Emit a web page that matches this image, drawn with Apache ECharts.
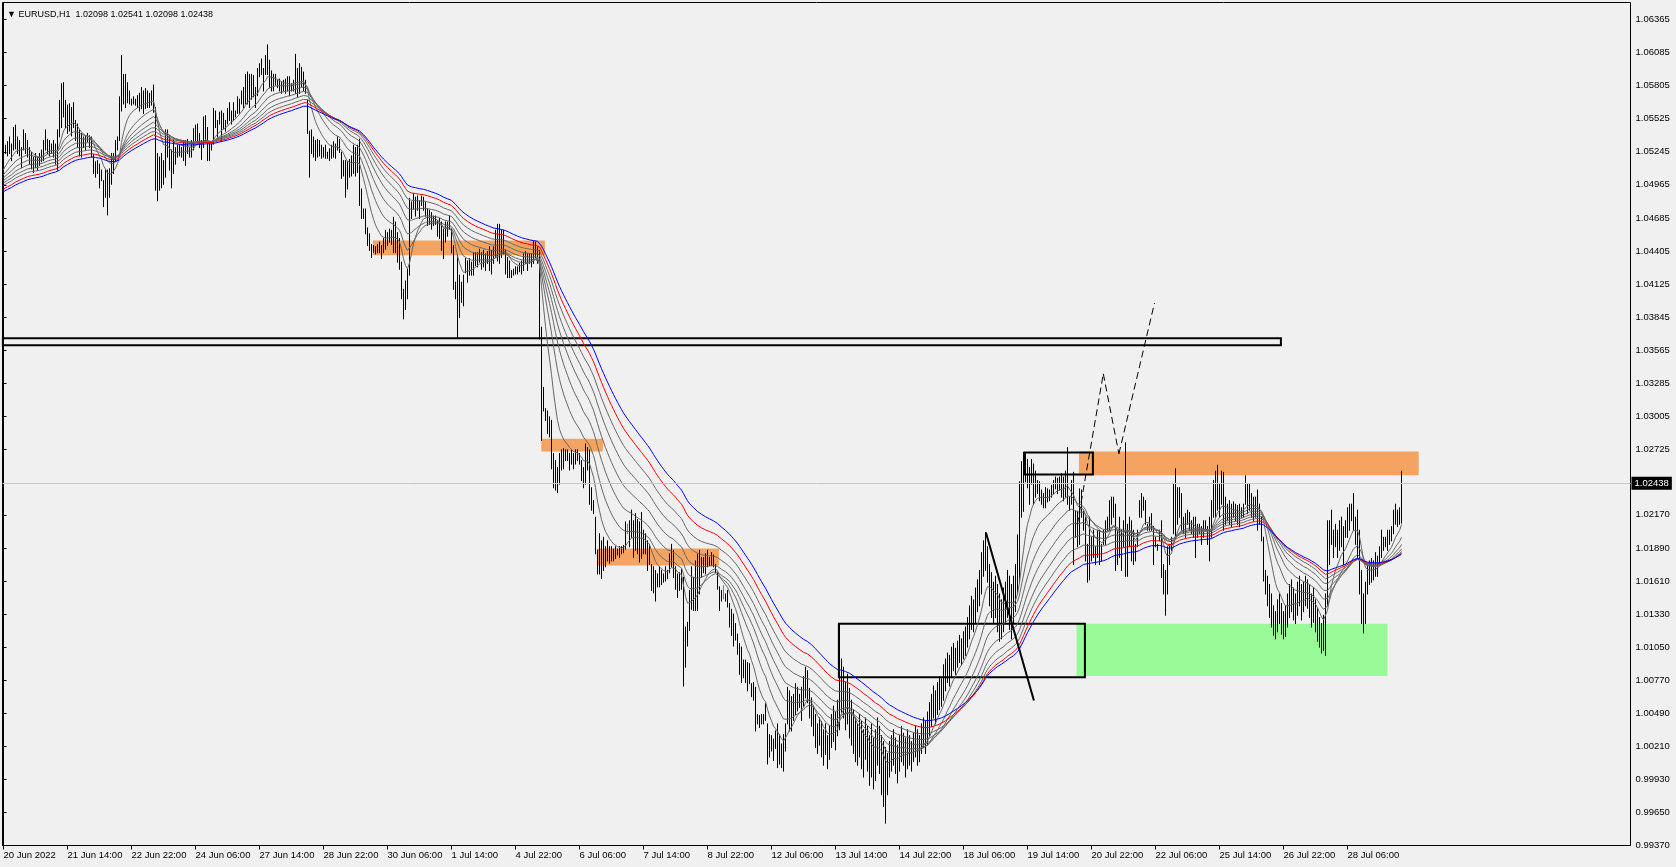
<!DOCTYPE html>
<html><head><meta charset="utf-8">
<script src="https://cdn.jsdelivr.net/npm/echarts@6/dist/echarts.min.js"></script>
<style>html,body{margin:0;padding:0;background:#f0f0f0;}#c{width:1676px;height:867px;}</style>
</head><body><div id="c"></div>
<script>
// ---------- DATA ----------
const chartTitle = '\u25BC EURUSD,H1  1.02098 1.02541 1.02098 1.02438';
const xTickLabels = ['20 Jun 2022','21 Jun 14:00','22 Jun 22:00','24 Jun 06:00','27 Jun 14:00','28 Jun 22:00','30 Jun 06:00','1 Jul 14:00','4 Jul 22:00','6 Jul 06:00','7 Jul 14:00','8 Jul 22:00','12 Jul 06:00','13 Jul 14:00','14 Jul 22:00','18 Jul 06:00','19 Jul 14:00','20 Jul 22:00','22 Jul 06:00','25 Jul 14:00','26 Jul 22:00','28 Jul 06:00'];
const barsPerXLabel = 32;
const yTickValues = [0.99370,0.99650,0.99930,1.00210,1.00490,1.00770,1.01050,1.01330,1.01610,1.01890,1.02170,1.02725,1.03005,1.03285,1.03565,1.03845,1.04125,1.04405,1.04685,1.04965,1.05245,1.05525,1.05805,1.06085,1.06365];
const currentPrice = 1.02438;
// bar highs / lows, in pips above 1.0000 (H1 bars, oldest first)
const barHighPips = [
531,530,533,537,531,545,547,537,534,528, 543,540,534,528,524,520,523,520,523,526,
534,543,535,534,531,534,531,543,568,582, 583,568,564,565,562,566,551,548,543,540,
537,538,540,538,537,522,516,517,514,509, 500,509,509,510,523,523,534,537,571,606,
590,590,583,576,569,571,569,572,574,579, 576,578,576,574,576,581,562,523,520,523,
517,543,543,537,526,534,528,530,530,528, 534,534,535,528,534,544,547,548,540,534,
554,555,545,531,531,561,559,551,558,559, 557,551,561,566,559,566,559,571,569,576,
579,590,592,590,590,589,579,595,599,603, 595,606,615,602,593,590,590,585,586,583,
585,586,588,588,582,585,607,595,599,596, 592,585,568,542,543,537,534,535,534,530,
528,530,524,527,530,533,531,537,535,524, 517,517,516,518,521,530,528,530,535,493,
476,476,460,455,446,445,444,446,448,445, 451,458,456,459,458,469,465,456,451,431,
408,415,425,485,482,489,486,487,483,487, 486,482,476,475,473,470,470,466,468,465,
459,465,465,470,459,445,414,437,420,414, 420,434,432,434,431,439,439,439,442,439,
441,438,440,444,441,444,458,463,463,458, 458,441,435,432,424,425,427,427,430,432,
438,440,438,438,438,449,448,444,441,376, 325,307,305,300,297,269,263,257,269,272,
273,272,272,269,272,269,272,272,269,263, 257,277,274,272,240,229,215,187,201,195,
198,190,195,190,190,188,190,188,190,190, 191,211,209,212,221,212,218,213,211,219,
204,201,195,192,175,173,170,167,173,170, 167,173,170,184,192,187,173,167,168,171,
164,122,126,153,173,164,178,184,187,181, 181,184,187,181,185,183,175,168,156,153,
157,150,153,142,137,133,125,116,108,105, 94,94,92,91,74,75,71,48,47,48,
48,57,40,31,30,27,34,40,31,23, 31,40,71,68,63,65,74,71,65,71,
80,88,85,70,62,55,48,40,45,42, 35,40,30,38,48,55,50,60,125,95,
88,75,82,70,60,52,45,40,48,42, 35,45,38,30,40,28,35,45,38,30,
25,20,15,25,30,35,28,22,30,38, 32,28,35,30,25,32,38,35,30,40,
45,42,50,58,65,72,68,75,80,78, 90,95,100,98,105,108,104,110,115,112,
118,122,130,140,148,145,155,162,170,185, 195,202,190,175,168,160,165,158,150,145,
155,160,170,165,158,165,175,200,245,262, 270,268,264,257,264,260,254,246,245,238,
235,240,239,238,242,246,249,248,249,252, 249,254,274,232,246,253,220,220,239,238,
220,215,192,215,198,204,190,204,204,192, 204,212,215,229,232,232,226,204,215,204,
212,278,209,215,212,204,192,204,229,235, 232,229,209,215,218,207,198,192,204,212,
175,170,190,192,198,243,256,240,240,235, 215,218,221,219,212,215,215,209,209,207,
212,212,207,215,229,246,254,259,243,254, 253,232,226,229,226,228,226,225,226,223,
226,250,243,243,235,232,232,238,226,215, 198,170,165,158,150,140,135,145,150,142,
135,140,150,158,162,155,150,160,165,158, 160,165,162,158,150,155,145,138,130,125,
132,150,212,212,221,204,209,204,212,215, 207,212,223,226,226,235,215,221,204,170,
150,160,175,178,180,178,185,182,190,204, 198,198,204,204,207,221,226,221,223,254
];
const barLowPips = [
518,523,521,523,517,526,527,523,521,511, 526,523,520,514,510,507,511,509,513,516,
517,526,523,521,523,520,514,509,537,545, 554,545,540,542,538,545,534,528,521,520,
528,526,533,528,520,506,503,506,494,500, 478,486,471,486,497,506,517,526,534,559,
565,562,566,565,564,565,564,562,559,561, 557,561,562,562,564,558,492,483,492,494,
497,503,520,509,494,506,514,520,521,520, 517,513,523,520,520,526,534,534,528,518,
528,534,517,517,526,531,545,537,548,534, 544,542,548,551,548,551,554,557,557,565,
562,565,565,562,569,571,562,572,588,590, 576,590,590,579,576,576,581,579,576,574,
576,574,576,572,576,576,574,571,574,579, 576,574,540,503,523,520,517,520,521,519,
520,519,519,517,519,520,519,526,524,502, 504,486,493,503,504,506,504,507,479,468,
468,455,445,441,435,439,438,439,439,434, 439,442,445,448,446,439,439,431,425,400,
383,391,400,420,468,476,470,475,468,479, 475,470,462,463,459,462,463,453,451,441,
434,448,453,459,439,408,400,367,384,397, 394,422,414,420,420,420,428,427,431,425,
427,424,430,424,421,430,435,432,430,435, 438,421,418,418,418,420,421,421,423,421,
424,430,424,430,427,430,435,430,366,280, 305,297,286,283,256,240,238,236,243,255,
256,263,263,255,260,256,260,263,260,246, 240,243,255,226,221,218,184,167,167,163,
170,173,178,176,178,178,180,183,181,184, 185,188,201,190,198,181,187,184,177,180,
184,184,170,175,153,151,144,156,156,158, 160,161,163,168,173,164,154,147,153,154,
72,88,106,119,137,136,136,136,150,164, 168,167,173,174,174,173,168,154,136,144,
146,144,139,122,115,106,111,99,82,75, 79,75,68,74,63,60,34,40,37,40,
40,43,6,12,17,9,19,3,6,3, 0,17,40,34,34,43,48,51,54,43,
55,62,58,45,38,30,20,15,22,12, 5,14,2,10,20,25,18,30,35,50,
45,35,40,28,22,15,8,5,12,2, -5,10,0,-12,-5,-15,-8,5,-2,-20,
-30,-44,-20,-5,0,5,-2,-10,0,8, 5,-5,2,5,0,8,12,5,8,15,
20,15,22,30,38,45,40,48,52,55, 60,68,75,72,80,85,82,88,92,90,
95,98,105,112,120,118,125,135,140,150, 165,170,160,140,130,125,130,118,110,112,
118,125,130,120,112,125,135,150,160,215, 220,245,240,226,243,226,232,235,229,226,
223,223,228,229,232,235,239,235,238,232, 229,232,226,221,226,175,198,190,192,215,
204,178,160,162,178,181,175,181,175,178, 192,192,204,204,209,215,170,175,181,170,
190,165,165,190,178,175,178,190,215,215, 221,209,204,204,204,175,190,187,195,164,
150,132,150,175,187,201,198,209,215,204, 201,198,209,204,201,198,181,198,201,192,
198,204,192,178,198,215,215,221,215,226, 204,209,212,209,207,215,212,209,207,215,
215,226,218,221,215,212,215,204,209,195, 161,150,140,130,122,115,112,118,125,116,
112,114,122,130,135,128,125,132,140,128, 135,140,138,130,122,126,118,110,105,100,
102,98,140,175,192,181,190,181,187,190, 175,198,198,204,212,204,192,181,150,125,
117,125,150,158,160,162,165,165,175,181, 187,190,187,192,195,201,209,207,209,210
];
const greenBarIndex = [312, 360];
const maPeriods = [10, 20, 30, 40, 50, 60, 70, 80];
const maStartPips = [506, 503, 501, 499, 497, 495, 492, 490];
// drawn objects: [fromBar, fromPrice, toBar, toPrice]
const orangeZones = [[184.7,1.04493,270.7,1.04369],[268.9,1.02814,299.7,1.02707],[296.7,1.01885,357.7,1.01741],[537.7,1.02707,707.6,1.02506]];
const greenZones = [[536.5,1.01247,692,1.00805]];
const outlineBoxes = [[-0.3,1.03666,638.7,1.03607],[510.7,1.02698,544.7,1.02512],[417.7,1.01247,540.7,1.00795]];
const trendLine = [[491.2,1.02021],[515.2,1.00598]];
const dashedPath = [[536.9,1.02088],[549.9,1.03365],[557.7,1.02687],[575.5,1.03964]];

// ---------- BUILD ----------
const toPrice = p => 1 + p / 10000;
const nSlots = 814;
const FONT = 'Liberation Sans';
const barData = barHighPips.map((h, i) => [i, toPrice(barLowPips[i]), toPrice(h)]);
const median = barHighPips.map((h, i) => (h + barLowPips[i]) / 2);
function ema(src, period, start) {
  const a = 2 / (period + 1); let e = start;
  return src.map((v, i) => { e = e + a * (v - e); return [i, toPrice(e)]; });
}
const maColors = ['#666666','#666666','#666666','#666666','#666666','#666666','#ff0000','#0000ff'];
const maSeries = maPeriods.map((p, k) => ({
  type: 'line', data: ema(median, p, maStartPips[k]), symbol: 'none', z: 3,
  lineStyle: { color: maColors[k], width: 1 }, silent: true
}));
const xTickBars = xTickLabels.map((_, k) => k * barsPerXLabel);

const areaData = [];
orangeZones.forEach(z => areaData.push([{coord:[z[0], z[1]], itemStyle:{color:'#f4a460'}}, {coord:[z[2], z[3]]}]));
greenZones.forEach(z => areaData.push([{coord:[z[0], z[1]], itemStyle:{color:'#98fb98'}}, {coord:[z[2], z[3]]}]));
const boxData = outlineBoxes.map(z => [{coord:[z[0], z[1]]}, {coord:[z[2], z[3]]}]);
const lineData = [[{coord: trendLine[0], lineStyle:{type:'solid', width:2}}, {coord: trendLine[1]}]];
for (let k = 0; k < dashedPath.length - 1; k++) {
  lineData.push([{coord: dashedPath[k], lineStyle:{type:[7,4], width:1}}, {coord: dashedPath[k+1]}]);
}
const priceLine = [[{coord:[-0.5, currentPrice]}, {coord:[nSlots - 0.5, currentPrice],
  label: { show: true, position: 'end', formatter: currentPrice.toFixed(5), color: '#fff', backgroundColor: '#000', padding: [2,3,1,3], distance: 1, fontFamily: FONT, fontSize: 9.5 } }]];

const chart = echarts.init(document.getElementById('c'), null, {renderer: 'canvas'});
chart.setOption({
  animation: false,
  backgroundColor: '#f0f0f0',
  title: { text: chartTitle, left: 2, top: 5, textStyle: { fontFamily: FONT, fontSize: 9, fontWeight: 'normal', color: '#000' } },
  grid: { left: 2.5, top: 2.5, right: 45.5, bottom: 21.5, show: true, borderColor: '#000', borderWidth: 1, backgroundColor: 'transparent' },
  xAxis: {
    type: 'value', min: -0.5, max: nSlots - 0.5, splitLine: { show: false },
    axisLine: { lineStyle: { color: '#000', width: 1 } },
    axisTick: { show: true, length: 4, lineStyle: { color: '#000' }, customValues: xTickBars },
    axisLabel: { customValues: xTickBars, formatter: v => xTickLabels[Math.round(v / barsPerXLabel)] || '', align: 'left', margin: 5, fontFamily: FONT, fontSize: 9.5, color: '#000' }
  },
  yAxis: {
    type: 'value', position: 'right', min: 0.9937, max: 0.9937 + 843 / 11808.4, splitLine: { show: false },
    axisLine: { show: true, lineStyle: { color: '#000', width: 1 } },
    axisTick: { show: true, length: 3, lineStyle: { color: '#000' }, customValues: yTickValues },
    axisLabel: { customValues: yTickValues, formatter: v => v.toFixed(5), margin: 5, fontFamily: FONT, fontSize: 9.5, color: '#000' }
  },
  series: [
    { type: 'line', data: [], z: 1, silent: true,
      markArea: { silent: true, itemStyle: { opacity: 1 }, data: areaData },
      markLine: { silent: true, symbol: 'none', lineStyle: { color: '#c8c8c8', type: 'solid', width: 1 }, label: { show: false }, data: priceLine } },
    { type: 'custom', data: barData, z: 2, silent: true, encode: { x: 0, y: [1, 2] },
      renderItem: (params, api) => {
        const i = api.value(0);
        const lo = api.coord([i, api.value(1)]), hi = api.coord([i, api.value(2)]);
        const x = Math.floor(lo[0]) + 0.5;
        return { type: 'line', shape: { x1: x, y1: lo[1] + 0.5, x2: x, y2: hi[1] - 0.5 },
          style: { stroke: greenBarIndex.includes(i) ? '#00c800' : '#000', lineWidth: 1 } };
      } },
    ...maSeries,
    { type: 'line', data: [], z: 5, silent: true,
      markArea: { silent: true, itemStyle: { color: 'rgba(0,0,0,0)', borderColor: '#000', borderWidth: 2 }, data: boxData },
      markLine: { silent: true, symbol: 'none', label: { show: false }, lineStyle: { color: '#000' }, data: lineData } }
  ]
});
</script></body></html>
